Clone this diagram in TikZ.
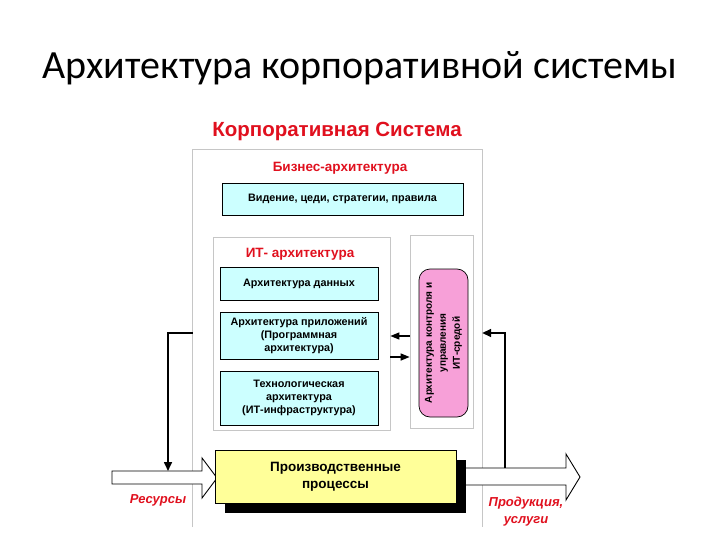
\documentclass[tikz,border=0pt]{standalone}
\usepackage{fontspec}
\setmainfont{Carlito}
\newfontfamily\arialfont{Liberation Sans}
\usetikzlibrary{positioning,arrows.meta,calc,shadows}
\usepackage{xcolor}
\definecolor{boxcyan}{HTML}{CCFFFF}
\definecolor{boxpink}{HTML}{F7A0D8}
\definecolor{boxyellow}{HTML}{FFFF99}
\definecolor{labelred}{HTML}{E0101E}

\tikzset{
  archbox/.style={draw=black, fill=boxcyan, line width=0.9pt, align=center,
    inner sep=0pt, font=\arialfont\bfseries\fontsize{10.8}{12.8}\selectfont},
  framebox/.style={draw=gray!45, line width=0.7pt, inner sep=0pt},
  redhead/.style={text=labelred, font=\arialfont\bfseries\fontsize{13.5}{16}\selectfont},
  redlabel/.style={text=labelred, align=center,
    font=\arialfont\bfseries\itshape\fontsize{13}{17}\selectfont},
  flowarrow/.style={draw=black, fill=white, line width=0.9pt, line join=miter},
  feedback/.style={line width=1.6pt, -{Triangle[length=9pt,width=8pt]}},
  linkarrow/.style={line width=1.4pt, -{Triangle[length=9pt,width=7pt]}}
}

\begin{document}
\begin{tikzpicture}[x=1pt,y=-1pt]
\useasboundingbox (0,0) rectangle (720,540);
% title
\node[font=\fontsize{40}{48}\selectfont] (title) at (360,68) {Архитектура корпоративной системы};
\node[redhead, font=\arialfont\bfseries\fontsize{20.5}{24}\selectfont] (corp) at (337,131) {Корпоративная Система};
% outer frame, open at the bottom
\node[minimum width=289pt, minimum height=377pt, inner sep=0pt] (corpframe) at (337.5,338.5) {};
\draw[gray!45, line width=0.7pt] (corpframe.south west) |- (corpframe.north east) -- (corpframe.south east);
% business architecture
\node[redhead] (bizlabel) at (340,168) {Бизнес-архитектура};
\node[archbox, minimum width=241pt, minimum height=32pt] (vision) at (342.5,199) {Видение, цеди, стратегии, правила};
% IT architecture
\node[framebox, minimum width=177pt, minimum height=193pt] (itframe) at (301.5,333.5) {};
\node[redhead] (itlabel) at (300,254) {ИТ- архитектура};
\node[archbox, minimum width=158pt, minimum height=33pt] (data) at (299,283.5) {Архитектура данных};
\node[archbox, minimum width=158pt, minimum height=47pt] (apps) at (299,335.5) {Архитектура приложений\\(Программная\\архитектура)};
\node[archbox, minimum width=158pt, minimum height=54pt] (tech) at (299,398) {Технологическая\\архитектура\\(ИТ-инфраструктура)};
% control of IT environment
\node[framebox, minimum width=63pt, minimum height=193pt] (ctrlframe) at (441.5,331.5) {};
\node[archbox, fill=boxpink, rounded corners=11pt, rotate=90, line width=0.7pt,
  font=\arialfont\bfseries\fontsize{10}{14}\selectfont,
  minimum width=148pt, minimum height=49pt] (ctrl) at (443.5,343) {Архитектура контроля и\\управления\\ИТ-средой};
\draw[linkarrow] (ctrlframe.west |- 0,336) -- (itframe.east |- 0,336);
\draw[linkarrow] (itframe.east |- 0,357) -- (ctrlframe.west |- 0,357);
% production
\coordinate (outtip) at (580,477);
\draw[flowarrow] (456,468) -- (566,468) -- (566,454) -- (outtip) -- (566,500) -- (566,485) -- (456,485);
\coordinate (restip) at (217,478);
\draw[flowarrow] (202,471) -- (202,458) -- (restip) -- (202,498) -- (202,484) -- (112,484) -- (112,471) -- cycle;
\node[draw=black, fill=boxyellow, line width=0.9pt, minimum width=241pt, minimum height=53pt, align=center,
  font=\arialfont\bfseries\fontsize{13.5}{17}\selectfont,
  drop shadow={shadow xshift=10pt, shadow yshift=-10pt, fill=black, opacity=1}] (prod) at (335.5,476.5)
  {Производственные\\процессы};
% feedback loops
\coordinate (fbleft) at (168,333);
\draw[feedback] (corpframe.west |- fbleft) -- (fbleft) -- (168,471);
\coordinate (fbright) at (505,468);
\draw[feedback] (fbright) -- (fbright |- 0,333) -- (corpframe.east |- 0,333);
% labels
\node[redlabel] (res) at (158,500) {Ресурсы};
\node[redlabel] (out) at (526,512) {Продукция,\\услуги};
\end{tikzpicture}
\end{document}
